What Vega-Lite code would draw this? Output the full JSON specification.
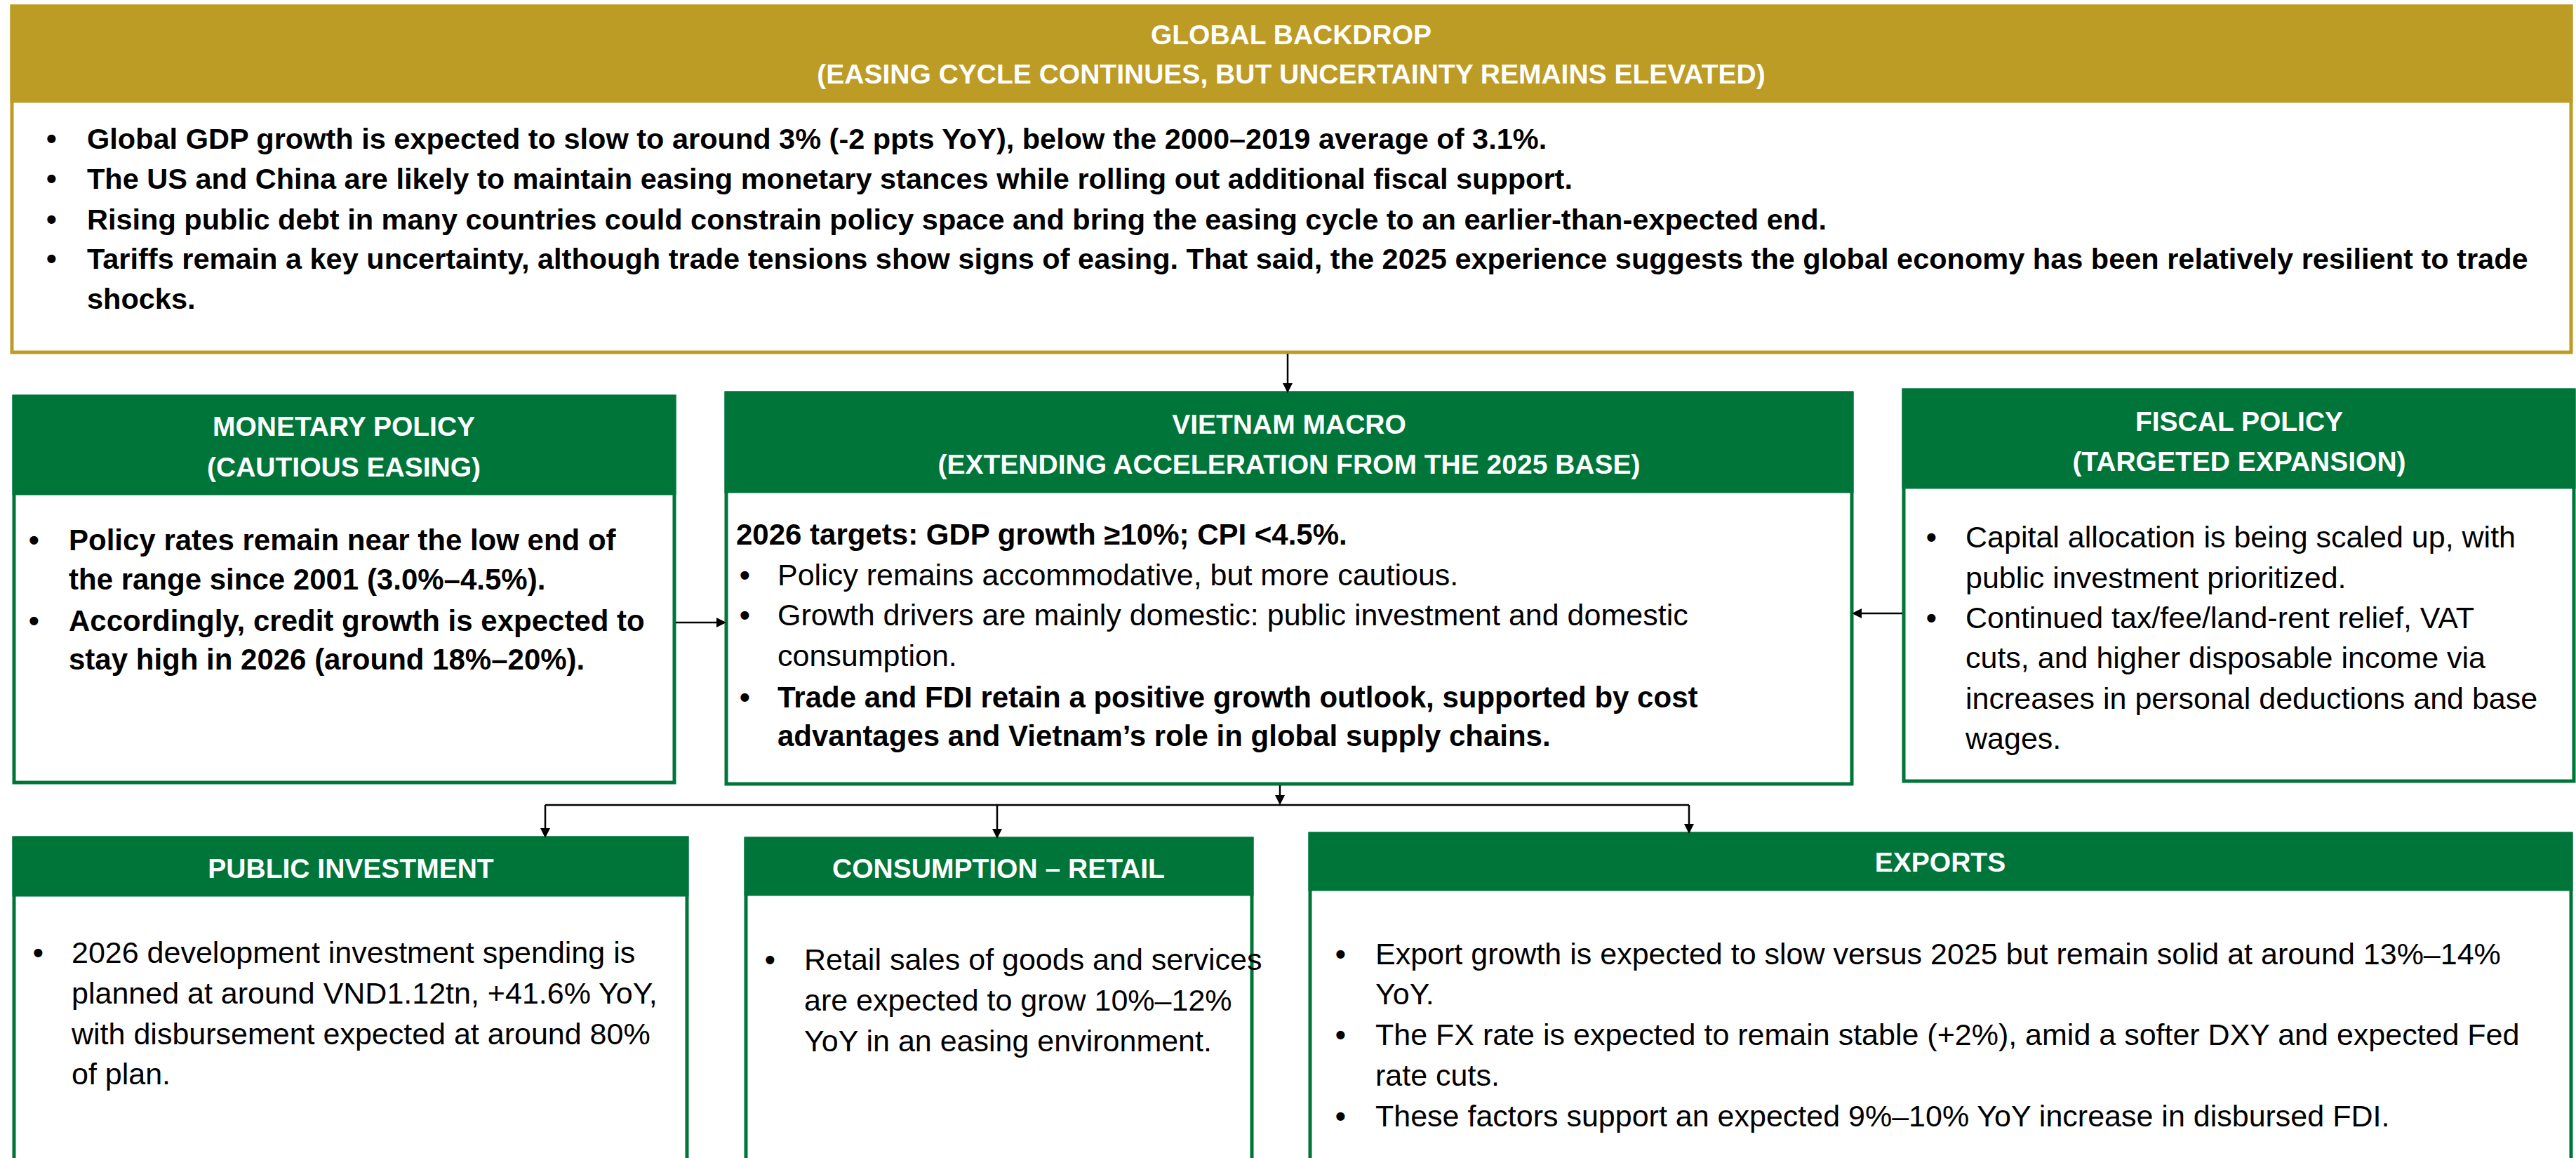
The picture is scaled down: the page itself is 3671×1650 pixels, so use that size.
{
  "$schema": "https://vega.github.io/schema/vega-lite/v6.json",
  "width": 3671,
  "height": 1650,
  "autosize": "none",
  "padding": 0,
  "background": "white",
  "config": {"view": {"stroke": null}},
  "datasets": {
    "boxes": [
      {"box": "global", "theme": "gold", "x0": 17, "x1": 3664, "y0": 9, "yh": 144, "y1": 502},
      {"box": "monetary", "theme": "green", "x0": 20, "x1": 961, "y0": 565, "yh": 703, "y1": 1115},
      {"box": "vietnam", "theme": "green", "x0": 1035, "x1": 2639, "y0": 560, "yh": 700, "y1": 1117},
      {"box": "fiscal", "theme": "green", "x0": 2713, "x1": 3668, "y0": 556, "yh": 694, "y1": 1113},
      {"box": "public", "theme": "green", "x0": 20, "x1": 979, "y0": 1194, "yh": 1275, "y1": 1700},
      {"box": "consumption", "theme": "green", "x0": 1063, "x1": 1784, "y0": 1195, "yh": 1274, "y1": 1700},
      {"box": "exports", "theme": "green", "x0": 1867, "x1": 3664, "y0": 1188, "yh": 1267, "y1": 1700}
    ],
    "titles": [
      {"box": "global", "x": 1840, "y": 63, "text": "GLOBAL BACKDROP"},
      {"box": "global", "x": 1840, "y": 119, "text": "(EASING CYCLE CONTINUES, BUT UNCERTAINTY REMAINS ELEVATED)"},
      {"box": "monetary", "x": 490, "y": 621, "text": "MONETARY POLICY"},
      {"box": "monetary", "x": 490, "y": 679, "text": "(CAUTIOUS EASING)"},
      {"box": "vietnam", "x": 1837, "y": 618, "text": "VIETNAM MACRO"},
      {"box": "vietnam", "x": 1837, "y": 675, "text": "(EXTENDING ACCELERATION FROM THE 2025 BASE)"},
      {"box": "fiscal", "x": 3191, "y": 614, "text": "FISCAL POLICY"},
      {"box": "fiscal", "x": 3191, "y": 671, "text": "(TARGETED EXPANSION)"},
      {"box": "public", "x": 500, "y": 1251, "text": "PUBLIC INVESTMENT"},
      {"box": "consumption", "x": 1423, "y": 1251, "text": "CONSUMPTION – RETAIL"},
      {"box": "exports", "x": 2765, "y": 1242, "text": "EXPORTS"}
    ],
    "body": [
      {"box": "global", "weight": "bold", "x": 124, "y": 212, "text": "Global GDP growth is expected to slow to around 3% (-2 ppts YoY), below the 2000–2019 average of 3.1%."},
      {"box": "global", "weight": "bold", "x": 124, "y": 269, "text": "The US and China are likely to maintain easing monetary stances while rolling out additional fiscal support."},
      {"box": "global", "weight": "bold", "x": 124, "y": 327, "text": "Rising public debt in many countries could constrain policy space and bring the easing cycle to an earlier-than-expected end."},
      {"box": "global", "weight": "bold", "x": 124, "y": 383, "text": "Tariffs remain a key uncertainty, although trade tensions show signs of easing. That said, the 2025 experience suggests the global economy has been relatively resilient to trade"},
      {"box": "global", "weight": "bold", "x": 124, "y": 440, "text": "shocks."},
      {"box": "monetary", "weight": "bold2", "x": 98, "y": 784, "text": "Policy rates remain near the low end of"},
      {"box": "monetary", "weight": "bold2", "x": 98, "y": 840, "text": "the range since 2001 (3.0%–4.5%)."},
      {"box": "monetary", "weight": "bold2", "x": 98, "y": 899, "text": "Accordingly, credit growth is expected to"},
      {"box": "monetary", "weight": "bold2", "x": 98, "y": 954, "text": "stay high in 2026 (around 18%–20%)."},
      {"box": "vietnam", "weight": "bold2", "x": 1049, "y": 776, "text": "2026 targets: GDP growth ≥10%; CPI <4.5%."},
      {"box": "vietnam", "weight": "regular", "x": 1108, "y": 834, "text": "Policy remains accommodative, but more cautious."},
      {"box": "vietnam", "weight": "regular", "x": 1108, "y": 891, "text": "Growth drivers are mainly domestic: public investment and domestic"},
      {"box": "vietnam", "weight": "regular", "x": 1108, "y": 949, "text": "consumption."},
      {"box": "vietnam", "weight": "bold2", "x": 1108, "y": 1008, "text": "Trade and FDI retain a positive growth outlook, supported by cost"},
      {"box": "vietnam", "weight": "bold2", "x": 1108, "y": 1063, "text": "advantages and Vietnam’s role in global supply chains."},
      {"box": "fiscal", "weight": "regular", "x": 2801, "y": 780, "text": "Capital allocation is being scaled up, with"},
      {"box": "fiscal", "weight": "regular", "x": 2801, "y": 838, "text": "public investment prioritized."},
      {"box": "fiscal", "weight": "regular", "x": 2801, "y": 895, "text": "Continued tax/fee/land-rent relief, VAT"},
      {"box": "fiscal", "weight": "regular", "x": 2801, "y": 952, "text": "cuts, and higher disposable income via"},
      {"box": "fiscal", "weight": "regular", "x": 2801, "y": 1010, "text": "increases in personal deductions and base"},
      {"box": "fiscal", "weight": "regular", "x": 2801, "y": 1067, "text": "wages."},
      {"box": "public", "weight": "regular", "x": 102, "y": 1372, "text": "2026 development investment spending is"},
      {"box": "public", "weight": "regular", "x": 102, "y": 1430, "text": "planned at around VND1.12tn, +41.6% YoY,"},
      {"box": "public", "weight": "regular", "x": 102, "y": 1488, "text": "with disbursement expected at around 80%"},
      {"box": "public", "weight": "regular", "x": 102, "y": 1545, "text": "of plan."},
      {"box": "consumption", "weight": "regular", "x": 1146, "y": 1382, "text": "Retail sales of goods and services"},
      {"box": "consumption", "weight": "regular", "x": 1146, "y": 1440, "text": "are expected to grow 10%–12%"},
      {"box": "consumption", "weight": "regular", "x": 1146, "y": 1498, "text": "YoY in an easing environment."},
      {"box": "exports", "weight": "regular", "x": 1960, "y": 1374, "text": "Export growth is expected to slow versus 2025 but remain solid at around 13%–14%"},
      {"box": "exports", "weight": "regular", "x": 1960, "y": 1431, "text": "YoY."},
      {"box": "exports", "weight": "regular", "x": 1960, "y": 1489, "text": "The FX rate is expected to remain stable (+2%), amid a softer DXY and expected Fed"},
      {"box": "exports", "weight": "regular", "x": 1960, "y": 1547, "text": "rate cuts."},
      {"box": "exports", "weight": "regular", "x": 1960, "y": 1605, "text": "These factors support an expected 9%–10% YoY increase in disbursed FDI."}
    ],
    "bullets": [
      {"box": "global", "x": 66, "y": 212}, {"box": "global", "x": 66, "y": 269}, {"box": "global", "x": 66, "y": 327}, {"box": "global", "x": 66, "y": 383},
      {"box": "monetary", "x": 41, "y": 784}, {"box": "monetary", "x": 41, "y": 899},
      {"box": "vietnam", "x": 1054, "y": 834}, {"box": "vietnam", "x": 1054, "y": 891}, {"box": "vietnam", "x": 1054, "y": 1008},
      {"box": "fiscal", "x": 2745, "y": 780}, {"box": "fiscal", "x": 2745, "y": 895},
      {"box": "public", "x": 47, "y": 1372},
      {"box": "consumption", "x": 1090, "y": 1382},
      {"box": "exports", "x": 1903, "y": 1374}, {"box": "exports", "x": 1903, "y": 1489}, {"box": "exports", "x": 1903, "y": 1605}
    ],
    "links": [
      {"from": "global", "to": "vietnam", "x": 1835, "y": 504, "xe": 1835, "ye": 554},
      {"from": "monetary", "to": "vietnam", "x": 963, "y": 887, "xe": 1029, "ye": 887},
      {"from": "fiscal", "to": "vietnam", "x": 2711, "y": 874, "xe": 2645, "ye": 874},
      {"from": "vietnam", "to": "bus", "x": 1824, "y": 1119, "xe": 1824, "ye": 1141},
      {"from": "bus", "to": "bus", "x": 777, "y": 1147, "xe": 2407, "ye": 1147},
      {"from": "bus", "to": "public", "x": 777, "y": 1147, "xe": 777, "ye": 1188},
      {"from": "bus", "to": "consumption", "x": 1421, "y": 1147, "xe": 1421, "ye": 1189},
      {"from": "bus", "to": "exports", "x": 2407, "y": 1147, "xe": 2407, "ye": 1182}
    ],
    "heads": [
      {"to": "vietnam", "dir": "down", "x": 1835, "y": 560},
      {"to": "vietnam", "dir": "right", "x": 1035, "y": 887},
      {"to": "vietnam", "dir": "left", "x": 2639, "y": 874},
      {"to": "bus", "dir": "down", "x": 1824, "y": 1147},
      {"to": "public", "dir": "down", "x": 777, "y": 1194},
      {"to": "consumption", "dir": "down", "x": 1421, "y": 1195},
      {"to": "exports", "dir": "down", "x": 2407, "y": 1188}
    ]
  },
  "layer": [
    {
      "data": {"name": "boxes"},
      "mark": {"type": "rect", "fill": "white", "strokeWidth": 5},
      "encoding": {
        "x": {"field": "x0", "type": "quantitative", "scale": {"domain": [0, 3671], "nice": false, "zero": false}, "axis": null},
        "x2": {"field": "x1"},
        "y": {"field": "y0", "type": "quantitative", "scale": {"domain": [0, 1650], "nice": false, "zero": false, "reverse": true}, "axis": null},
        "y2": {"field": "y1"},
        "stroke": {"field": "theme", "type": "nominal", "scale": {"domain": ["gold", "green"], "range": ["#BD9C26", "#00753A"]}, "legend": null}
      }
    },
    {
      "data": {"name": "boxes"},
      "mark": {"type": "rect", "strokeWidth": 5},
      "encoding": {
        "x": {"field": "x0", "type": "quantitative"},
        "x2": {"field": "x1"},
        "y": {"field": "y0", "type": "quantitative"},
        "y2": {"field": "yh"},
        "fill": {"field": "theme", "type": "nominal", "scale": {"domain": ["gold", "green"], "range": ["#BD9C26", "#00753A"]}, "legend": null},
        "stroke": {"field": "theme", "type": "nominal", "legend": null}
      }
    },
    {
      "data": {"name": "titles"},
      "mark": {"type": "text", "font": "Liberation Sans", "fontSize": 39, "fontWeight": "bold", "color": "white", "align": "center", "baseline": "alphabetic"},
      "encoding": {
        "x": {"field": "x", "type": "quantitative"},
        "y": {"field": "y", "type": "quantitative"},
        "text": {"field": "text"}
      }
    },
    {
      "data": {"name": "body"},
      "transform": [{"filter": "datum.weight == 'bold'"}],
      "mark": {"type": "text", "font": "Liberation Sans", "fontSize": 41.5, "fontWeight": "bold", "color": "black", "align": "left", "baseline": "alphabetic"},
      "encoding": {
        "x": {"field": "x", "type": "quantitative"},
        "y": {"field": "y", "type": "quantitative"},
        "text": {"field": "text"}
      }
    },
    {
      "data": {"name": "body"},
      "transform": [{"filter": "datum.weight == 'bold2'"}],
      "mark": {"type": "text", "font": "Liberation Sans", "fontSize": 42, "fontWeight": "bold", "color": "black", "align": "left", "baseline": "alphabetic"},
      "encoding": {
        "x": {"field": "x", "type": "quantitative"},
        "y": {"field": "y", "type": "quantitative"},
        "text": {"field": "text"}
      }
    },
    {
      "data": {"name": "body"},
      "transform": [{"filter": "datum.weight == 'regular'"}],
      "mark": {"type": "text", "font": "Liberation Sans", "fontSize": 43, "fontWeight": "normal", "color": "black", "align": "left", "baseline": "alphabetic"},
      "encoding": {
        "x": {"field": "x", "type": "quantitative"},
        "y": {"field": "y", "type": "quantitative"},
        "text": {"field": "text"}
      }
    },
    {
      "data": {"name": "bullets"},
      "mark": {"type": "text", "font": "Liberation Sans", "fontSize": 42, "fontWeight": "bold", "color": "black", "align": "left", "baseline": "alphabetic"},
      "encoding": {
        "x": {"field": "x", "type": "quantitative"},
        "y": {"field": "y", "type": "quantitative"},
        "text": {"value": "•"}
      }
    },
    {
      "data": {"name": "links"},
      "mark": {"type": "rule", "color": "black", "strokeWidth": 2.5},
      "encoding": {
        "x": {"field": "x", "type": "quantitative"},
        "y": {"field": "y", "type": "quantitative"},
        "x2": {"field": "xe"},
        "y2": {"field": "ye"}
      }
    },
    {
      "data": {"name": "heads"},
      "mark": {"type": "point", "filled": true, "color": "black", "opacity": 1, "size": 784, "strokeWidth": 0},
      "encoding": {
        "x": {"field": "x", "type": "quantitative"},
        "y": {"field": "y", "type": "quantitative"},
        "shape": {"field": "dir", "type": "nominal", "scale": {"domain": ["down", "left", "right"], "range": ["M0,0L-0.5,-1L0.5,-1Z", "M0,0L1,-0.5L1,0.5Z", "M0,0L-1,-0.5L-1,0.5Z"]}, "legend": null}
      }
    }
  ]
}
